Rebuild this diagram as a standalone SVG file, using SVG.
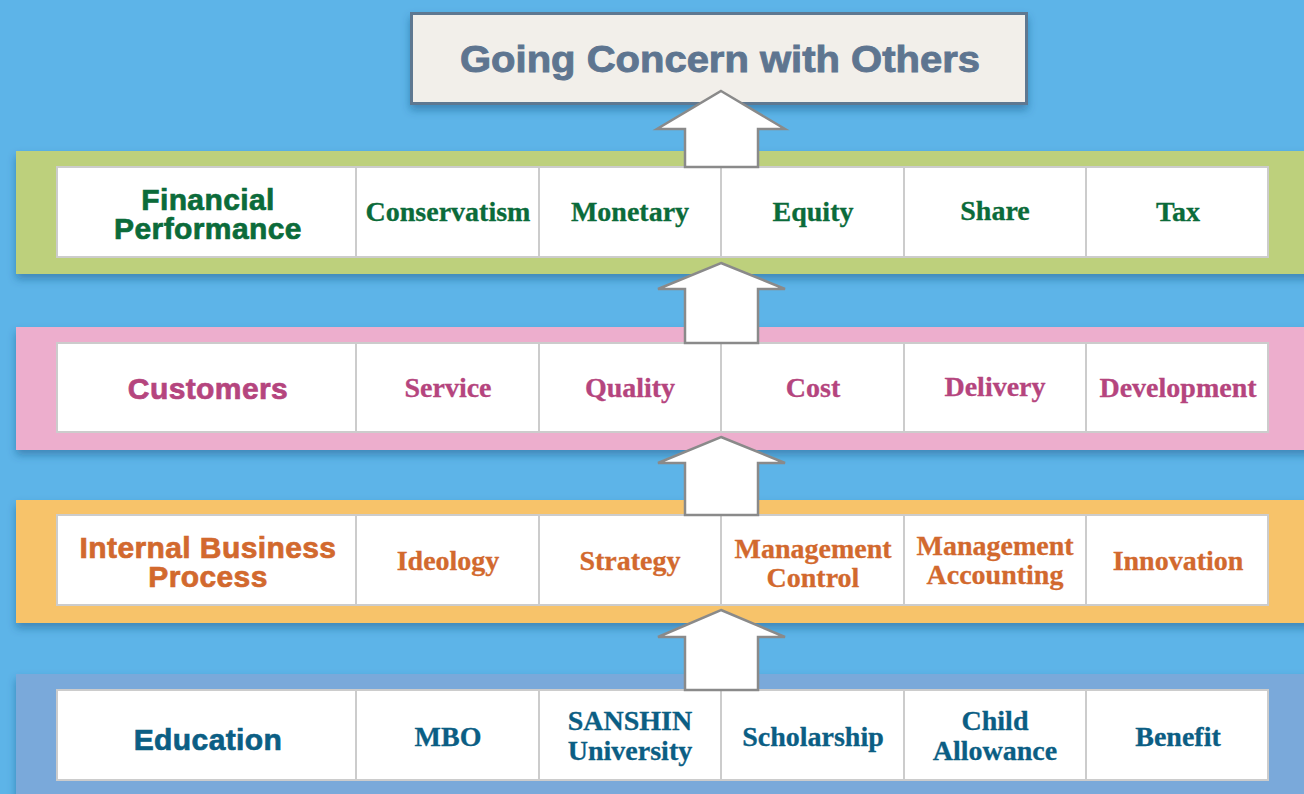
<svg xmlns="http://www.w3.org/2000/svg" width="1304" height="794" viewBox="0 0 1304 794">
<style>
.hd{font-family:"Liberation Sans",Arial,sans-serif;font-weight:bold;font-size:30px;letter-spacing:0.4px;text-anchor:middle;stroke-width:0.7px}
.cl{font-family:"Liberation Serif","Times New Roman",serif;font-weight:bold;font-size:28px;text-anchor:middle;stroke-width:0.3px}
.tbl{fill:#fff;stroke:#cccccc;stroke-width:2}
.sep{stroke:#cccccc;stroke-width:2}
.arr{fill:#fff;stroke:#8a8a8a;stroke-width:2.5;stroke-linejoin:miter}
.g{fill:#0b6b3a;stroke:#0b6b3a}.p{fill:#b5457e;stroke:#b5457e}.o{fill:#d2692e;stroke:#d2692e}.b{fill:#0b5e84;stroke:#0b5e84}
</style>
<defs>
<filter id="sh" x="-5%" y="-20%" width="110%" height="150%">
<feDropShadow dx="0" dy="5" stdDeviation="4" flood-color="#1d4f7a" flood-opacity="0.45"/>
</filter>
<g id="grid">
<line class="sep" x1="356" y1="0" x2="356" y2="90"/>
<line class="sep" x1="539" y1="0" x2="539" y2="90"/>
<line class="sep" x1="721" y1="0" x2="721" y2="90"/>
<line class="sep" x1="904" y1="0" x2="904" y2="90"/>
<line class="sep" x1="1086" y1="0" x2="1086" y2="90"/>
</g>
</defs>
<rect x="0" y="0" width="1304" height="794" fill="#5db4e8"/>

<g id="band-education">
<rect x="16" y="674" width="1300" height="130" fill="#7aa9da" filter="url(#sh)"/>
<rect class="tbl" x="57" y="690" width="1211" height="90"/>
<use href="#grid" y="690"/>
<text class="hd b" x="208" y="750">Education</text>
<text class="cl b" x="448" y="746">MBO</text>
<text class="cl b" x="630" y="730">SANSHIN</text>
<text class="cl b" x="630" y="760">University</text>
<text class="cl b" x="813" y="746">Scholarship</text>
<text class="cl b" x="995" y="730">Child</text>
<text class="cl b" x="995" y="760">Allowance</text>
<text class="cl b" x="1178" y="746">Benefit</text>
</g>

<g id="band-internal">
<rect x="16" y="500" width="1300" height="123" fill="#f7c36b" filter="url(#sh)"/>
<rect class="tbl" x="57" y="515" width="1211" height="90"/>
<use href="#grid" y="515"/>
<text class="hd o" x="208" y="558">Internal Business</text>
<text class="hd o" x="208" y="587">Process</text>
<text class="cl o" x="448" y="570">Ideology</text>
<text class="cl o" x="630" y="570">Strategy</text>
<text class="cl o" x="813" y="558">Management</text>
<text class="cl o" x="813" y="587">Control</text>
<text class="cl o" x="995" y="555">Management</text>
<text class="cl o" x="995" y="584">Accounting</text>
<text class="cl o" x="1178" y="570">Innovation</text>
</g>

<g id="band-customers">
<rect x="16" y="327" width="1300" height="123" fill="#edaecd" filter="url(#sh)"/>
<rect class="tbl" x="57" y="343" width="1211" height="89"/>
<use href="#grid" y="343"/>
<text class="hd p" x="208" y="399">Customers</text>
<text class="cl p" x="448" y="397">Service</text>
<text class="cl p" x="630" y="397">Quality</text>
<text class="cl p" x="813" y="397">Cost</text>
<text class="cl p" x="995" y="396">Delivery</text>
<text class="cl p" x="1178" y="397">Development</text>
</g>

<g id="band-financial">
<rect x="16" y="151" width="1300" height="123" fill="#bdd07c" filter="url(#sh)"/>
<rect class="tbl" x="57" y="167" width="1211" height="90"/>
<use href="#grid" y="167"/>
<text class="hd g" x="208" y="210">Financial</text>
<text class="hd g" x="208" y="239">Performance</text>
<text class="cl g" x="448" y="221">Conservatism</text>
<text class="cl g" x="630" y="221">Monetary</text>
<text class="cl g" x="813" y="221">Equity</text>
<text class="cl g" x="995" y="220">Share</text>
<text class="cl g" x="1178" y="221">Tax</text>
</g>

<g id="goal">
<rect x="411.5" y="13.5" width="615" height="90" fill="#f2efea" stroke="#5f7891" stroke-width="3" filter="url(#sh)"/>
<text x="720" y="72" font-family="'Liberation Sans',Arial,sans-serif" font-weight="bold" font-size="37" fill="#5e7590" stroke="#5e7590" stroke-width="0.9" text-anchor="middle" textLength="520" lengthAdjust="spacingAndGlyphs">Going Concern with Others</text>
</g>

<g id="connectors">
<polygon class="arr" points="721,91 785,129 758,129 758,167 685,167 685,129 657,129"/>
<polygon class="arr" points="721,263 785,289 758,289 758,343 685,343 685,289 658,289"/>
<polygon class="arr" points="721,437 785,463 758,463 758,515 685,515 685,463 658,463"/>
<polygon class="arr" points="721,610 785,637 758,637 758,690 685,690 685,637 658,637"/>
</g>
</svg>
